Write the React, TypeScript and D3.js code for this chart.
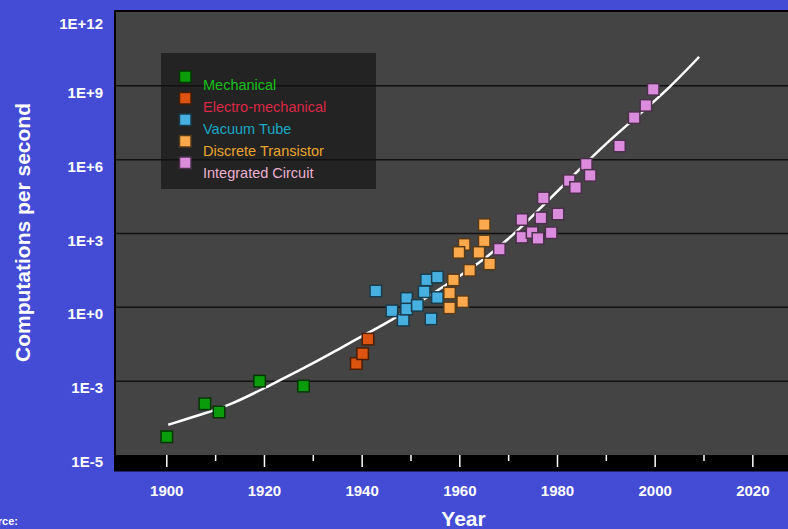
import React from "react";
import * as d3 from "d3";

// Series (year, computations per second)
const seriesNames = [
  "Mechanical",
  "Electro-mechanical",
  "Vacuum Tube",
  "Discrete Transistor",
  "Integrated Circuit",
];

const mechanical: [number, number][] = [
  [1900, 5.5e-6],
  [1907.8, 1.2e-4],
  [1910.7, 5.6e-5],
  [1919, 1.0e-3],
  [1928, 6.3e-4],
];

const electroMechanical: [number, number][] = [
  [1938.8, 0.0052],
  [1940.1, 0.013],
  [1941.2, 0.051],
];

const vacuumTube: [number, number][] = [
  [1942.8, 4.6],
  [1946.1, 0.72],
  [1948.4, 0.3],
  [1949.1, 2.3],
  [1949.1, 0.85],
  [1951.3, 1.2],
  [1952.7, 4.3],
  [1953.2, 13],
  [1955.4, 17],
  [1955.4, 2.5],
  [1954.1, 0.34],
];

const discreteTransistor: [number, number][] = [
  [1965, 2300],
  [1965, 500],
  [1960.9, 360],
  [1959.8, 170],
  [1963.9, 170],
  [1966.1, 58],
  [1962, 32],
  [1958.7, 13],
  [1957.9, 3.8],
  [1960.6, 1.7],
  [1957.9, 0.95],
];

const integratedCircuit: [number, number][] = [
  [1968.1, 230],
  [1972.7, 3700],
  [1972.7, 710],
  [1974.8, 1100],
  [1976.0, 630],
  [1976.6, 4300],
  [1978.7, 1070],
  [1977.1, 2.8e4],
  [1980.1, 6200],
  [1982.4, 1.4e5],
  [1983.7, 7.4e4],
  [1985.9, 6.5e5],
  [1986.7, 2.3e5],
  [1992.7, 3.6e6],
  [1995.7, 5.1e7],
  [1998.1, 1.6e8],
  [1999.6, 7.2e8],
];

// trend curve
const trendCurve: [number, number][] = [
  [1900.3, 1.7e-5],
  [1906.8, 4.2e-5],
  [1913.6, 1.2e-4],
  [1920.5, 5.9e-4],
  [1927.3, 2.8e-3],
  [1934.1, 0.015],
  [1940.9, 0.087],
  [1945.7, 0.26],
  [1956, 5.9],
  [1964.1, 60],
  [1971.7, 1200],
  [1975.7, 7600],
  [1982.6, 1.7e5],
  [1989.4, 3.7e6],
  [1996.2, 5.5e7],
  [2003, 8.5e8],
  [2009, 1.5e10],
];

const yTickValues = [1e12, 1e9, 1e6, 1e3, 1, 1e-3, 1e-6];
const yTickLabels = ["1E+12", "1E+9", "1E+6", "1E+3", "1E+0", "1E-3", "1E-5"];
const gridValues = [1e9, 1e6, 1e3, 1, 1e-3];
const xMajorTicks = [1900, 1920, 1940, 1960, 1980, 2000, 2020];
const xMinorTicks = [1910, 1930, 1950, 1970, 1990, 2010];

const markerColors = ["#0a9c0a", "#dc5410", "#48b0e0", "#fca84c", "#dc8cdc"];
const labelColors = ["#18c018", "#dc2846", "#19a8c4", "#eca52e", "#ecb0cf"];

const W = 788;
const H = 529;
const plot = { left: 116, right: 788, top: 12, bottom: 455 };
const FONT = "'Liberation Sans', Arial, Helvetica, sans-serif";

export default function App() {
  const x = d3.scaleLinear().domain([1889.6, 2027.2]).range([plot.left, plot.right]);
  const y = d3.scaleLog().domain([1e-6, 1e12]).range([plot.bottom, plot.top]);

  // smooth fitted trend
  const curve = d3
    .line<[number, number]>()
    .x((d) => x(d[0]))
    .y((d) => y(d[1]))
    .curve(d3.curveBasis);

  const allSeries = [mechanical, electroMechanical, vacuumTube, discreteTransistor, integratedCircuit];
  const size = 11.5;

  return (
    <svg
      width={W}
      height={H}
      style={{ position: "absolute", left: 0, top: 0, fontFamily: FONT }}
    >
      <rect x={0} y={0} width={W} height={H} fill="#444cd6" />

      {/* plot frame */}
      <rect x={plot.left - 2} y={plot.top - 2} width={W} height={plot.bottom - plot.top + 2} fill="#000" />
      <rect x={plot.left} y={plot.top} width={W} height={plot.bottom - plot.top} fill="#444444" />
      <rect x={plot.left - 2} y={plot.bottom} width={W} height={16.5} fill="#000" />

      {/* legend background */}
      <rect x={161} y={53} width={215} height={136} fill="#232323" />

      {/* grid */}
      {gridValues.map((v) => (
        <line
          key={v}
          x1={plot.left}
          x2={W}
          y1={y(v)}
          y2={y(v)}
          stroke="#111"
          strokeWidth={1.5}
        />
      ))}

      {/* x ticks */}
      {xMajorTicks.map((t) => (
        <line key={"M" + t} x1={x(t)} x2={x(t)} y1={plot.bottom} y2={plot.bottom + 12} stroke="#fff" strokeWidth={1.5} />
      ))}
      {xMinorTicks.map((t) => (
        <line key={"m" + t} x1={x(t)} x2={x(t)} y1={plot.bottom} y2={plot.bottom + 6} stroke="#fff" strokeWidth={1.5} />
      ))}
      {xMajorTicks.map((t) => (
        <text
          key={"l" + t}
          x={x(t)}
          y={496}
          textAnchor="middle"
          fill="#fff"
          fontWeight="bold"
          fontSize={15}
        >
          {t}
        </text>
      ))}

      {/* y tick labels */}
      {yTickValues.map((v, i) => (
        <text
          key={"y" + i}
          x={103}
          y={y(v) + (i === 0 ? 17 : 12)}
          textAnchor="end"
          fill="#fff"
          fontWeight="bold"
          fontSize={15}
        >
          {yTickLabels[i]}
        </text>
      ))}

      {/* trend */}
      <path d={curve(trendCurve) || ""} fill="none" stroke="#fff" strokeWidth={2.5} />

      {/* points */}
      {allSeries.map((s, si) =>
        s.map((d, i) => (
          <rect
            key={si + "-" + i}
            x={x(d[0]) - size / 2}
            y={y(d[1]) - size / 2}
            width={size}
            height={size}
            fill={markerColors[si]}
            stroke={d3.color(markerColors[si])!.darker(3).formatHex()}
            strokeWidth={1.5}
          />
        ))
      )}

      {/* legend */}
      {seriesNames.map((name, i) => (
        <g key={name}>
          <rect
            x={179.5}
            y={71 + i * 21.5}
            width={size}
            height={size}
            fill={markerColors[i]}
            stroke={d3.color(markerColors[i])!.darker(3).formatHex()}
            strokeWidth={1.5}
          />
          <text x={203} y={89.5 + i * 22.2} fill={labelColors[i]} fontSize={14.5}>
            {name}
          </text>
        </g>
      ))}

      {/* axis titles */}
      <text
        transform={`translate(29.5, 232.5) rotate(-90)`}
        textAnchor="middle"
        fill="#fff"
        fontWeight="bold"
        fontSize={21}
      >
        Computations per second
      </text>
      <text x={463.5} y={526} textAnchor="middle" fill="#fff" fontWeight="bold" fontSize={21}>
        Year
      </text>
      <text x={18} y={525} textAnchor="end" fill="#fff" fontWeight="bold" fontSize={11}>
        Source:
      </text>
    </svg>
  );
}
